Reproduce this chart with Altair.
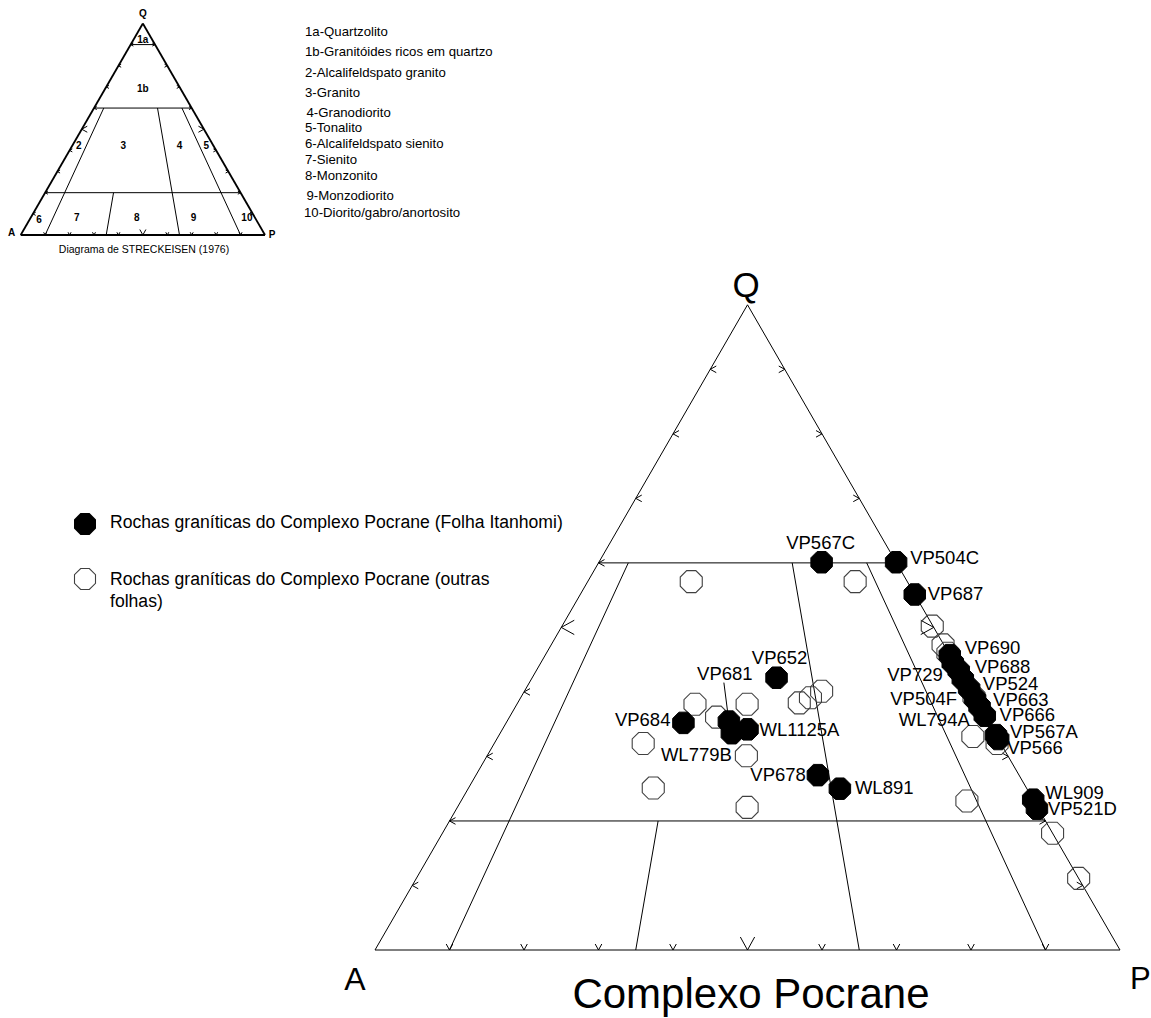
import math
import altair as alt
import pandas as pd

# ---------------------------------------------------------------------------
# Modal Q-A-P compositions (%) of the granitic rocks of the Pocrane Complex
# ---------------------------------------------------------------------------
itanhomi_names = ["VP567C", "VP504C", "VP687", "VP652", "VP681", "VP684",
                  "WL1125A", "WL779B", "VP678", "WL891", "WL909", "VP521D",
                  "VP690", "VP729", "VP688", "VP524", "VP504F", "VP663",
                  "VP666", "WL794A", "VP567A", "VP566"]
itanhomi_q = [60.1, 60.1, 55.1, 42.2, 35.4, 35.2, 34.2, 33.6, 27.1, 25.0, 23.3, 21.9,
              45.7, 44.5, 43.3, 42.0, 40.5, 38.9, 37.7, 36.3, 33.3, 32.7]
itanhomi_a = [10.0, 0.0, 0.0, 25.0, 34.8, 41.0, 32.9, 35.3, 27.0, 25.1, 0.0, 0.2,
              0.0, 0.2, 0.0, 0.1, 0.0, 0.0, 0.0, 0.0, 0.0, 0.0]
itanhomi_p = [29.9, 39.9, 44.9, 32.8, 29.8, 23.8, 32.9, 31.1, 45.9, 49.9, 76.7, 77.9,
              54.3, 55.3, 56.7, 57.9, 59.5, 61.1, 62.3, 63.7, 66.7, 67.3]

outras_q = [57.1, 57.1, 38.1, 38.1, 36.1, 32.0, 30.1, 25.1, 22.1, 38.3, 39.1,
            40.1, 50.2, 47.3, 46.0, 39.2, 33.1, 32.0, 23.1, 18.1, 11.1]
outras_a = [29.0, 7.0, 38.0, 31.0, 36.1, 48.0, 35.1, 50.1, 39.0, 23.9, 22.0,
            20.0, 0.1, 0.1, 0.1, 0.0, 3.2, 0.5, 9.0, 0.0, 0.0]
outras_p = [13.9, 35.9, 23.9, 30.9, 27.8, 20.0, 34.8, 24.8, 38.9, 37.8, 38.9,
            39.9, 49.7, 52.6, 53.9, 60.8, 63.7, 67.5, 67.9, 81.9, 88.9]

# Streckeisen (1976) QAP fields
field_codes = ["1a", "1b", "2", "3", "4", "5", "6", "7", "8", "9", "10"]
field_names = ["1a-Quartzolito", "1b-Granitóides ricos em quartzo",
               "2-Alcalifeldspato granito", "3-Granito", "4-Granodiorito",
               "5-Tonalito", "6-Alcalifeldspato sienito", "7-Sienito",
               "8-Monzonito", "9-Monzodiorito", "10-Diorito/gabro/anortosito"]
field_code_q = [92, 69, 42, 42, 42, 42, 7, 8, 8, 8, 8]
field_code_p = [4, 15.5, 2.8, 21, 44, 55, 4, 19, 43.5, 66.7, 88.6]

legend_items = ["Rochas graníticas do Complexo Pocrane (Folha Itanhomi)",
                "Rochas graníticas do Complexo Pocrane (outras folhas)"]

# ---------------------------------------------------------------------------
# Page geometry
# ---------------------------------------------------------------------------
W, H = 1151, 1018
PX = 7.45            # pixels per percent along a side of the main diagram
AX, AY = 375, 950    # pixel position of vertex A of the main diagram
R3 = math.sqrt(3) / 2
FONT = "Liberation Sans, Arial, sans-serif"


def ux(px):
    return (px - AX) / PX


def vy(py):
    return (AY - py) / PX


XDOM = [ux(0), ux(W)]
YDOM = [vy(H), vy(0)]

INSET_K = 244.3 / 745.0
INSET_O = (ux(20.7), vy(235))
MAIN_O = (0.0, 0.0)


def to_xy(q, a, p, k=1.0, o=MAIN_O):
    s = q + a + p
    q, p = 100 * q / s, 100 * p / s
    return o[0] + k * (p + q / 2), o[1] + k * q * R3


def at_ratio(q, r):
    """Point at quartz level q whose plagioclase ratio P/(A+P) is r."""
    return (q, (100 - q) * (1 - r), (100 - q) * r)


EDGES = [((0, 100, 0), (0, 0, 100)), ((0, 0, 100), (100, 0, 0)),
         ((100, 0, 0), (0, 100, 0))]
FIELD_LINES = [
    (at_ratio(60, 0), at_ratio(60, 1)),
    (at_ratio(20, 0), at_ratio(20, 1)),
    (at_ratio(60, 0.10), at_ratio(0, 0.10)),
    (at_ratio(60, 0.65), at_ratio(0, 0.65)),
    (at_ratio(60, 0.90), at_ratio(0, 0.90)),
    (at_ratio(20, 0.35), at_ratio(0, 0.35)),
]
QUARTZOLITE_LINE = [(at_ratio(90, 0), at_ratio(90, 1))]


def segments(pairs, w, k=1.0, o=MAIN_O):
    rows = []
    for s, e in pairs:
        x, y = to_xy(*s, k=k, o=o)
        x2, y2 = to_xy(*e, k=k, o=o)
        rows.append(dict(x=x, y=y, x2=x2, y2=y2, w=w))
    return rows


def ticks(small, big, k=1.0, o=MAIN_O):
    """Arrow-head graduations every 10 % on the three sides (larger at 50 %)."""
    rows = []
    for i in range(1, 10):
        t = 10 * i
        sz = big if i == 5 else small
        for (q, a, p), ang in (((t, 100 - t, 0), 270), ((t, 0, 100 - t), 90),
                               ((0, 100 - t, t), 180)):
            x, y = to_xy(q, a, p, k, o)
            rows.append(dict(x=x, y=y, ang=ang, sz=sz))
    return rows


seg_df = pd.DataFrame(
    segments(EDGES, 1.0) + segments(FIELD_LINES, 1.0)
    + segments(EDGES, 1.8, INSET_K, INSET_O)
    + segments(FIELD_LINES + QUARTZOLITE_LINE, 1.0, INSET_K, INSET_O))
tick_df = pd.DataFrame(ticks(144, 676) + ticks(30, 121, INSET_K, INSET_O))

# sample points
itan = pd.DataFrame(dict(name=itanhomi_names, q=itanhomi_q, a=itanhomi_a, p=itanhomi_p))
itan[["x", "y"]] = [to_xy(q, a, p) for q, a, p in zip(itan.q, itan.a, itan.p)]
outras = pd.DataFrame(dict(q=outras_q, a=outras_a, p=outras_p))
outras[["x", "y"]] = [to_xy(q, a, p) for q, a, p in zip(outras.q, outras.a, outras.p)]

# label placement: pixel offset from the sample and text alignment
label_pos = {
    "VP567C": (-1, -19, "center"), "VP504C": (14, -4, "left"),
    "VP687": (13, -1, "left"), "VP652": (3, -20, "center"),
    "VP681": (-4, -48, "center"), "VP684": (-13, -3, "right"),
    "WL1125A": (12, 1, "left"), "WL779B": (0, 22, "right"),
    "VP678": (-12, 0, "right"), "WL891": (15, -1, "left"),
    "WL909": (12, -7, "left"), "VP521D": (11, 0, "left"),
    "VP690": (15, -7, "left"), "VP729": (-10, 12, "right"),
    "VP688": (16, -4, "left"), "VP524": (20, 5, "left"),
    "VP504F": (-12, 10, "right"), "VP663": (18, 1, "left"),
    "VP666": (20, 8, "left"), "WL794A": (-15, 4, "right"),
    "VP567A": (14, -3, "left"), "VP566": (9, 9, "left"),
}
itan["lx"] = [x + label_pos[n][0] / PX for n, x in zip(itan.name, itan.x)]
itan["ly"] = [y - label_pos[n][1] / PX for n, y in zip(itan.name, itan.y)]
itan["anchor"] = [label_pos[n][2] for n in itan.name]

# leader from the VP681 label down to its sample
r681 = itan[itan["name"] == "VP681"].iloc[0]
leader_df = pd.DataFrame([dict(x=r681["lx"] - 1 / PX, y=r681["ly"] - 9 / PX,
                               x2=r681["x"], y2=r681["y"])])

# ---------------------------------------------------------------------------
# Marks
# ---------------------------------------------------------------------------
OCTAGON = "M-0.414,-1L0.414,-1L1,-0.414L1,0.414L0.414,1L-0.414,1L-1,0.414L-1,-0.414Z"
CHEVRON = "M-0.55,1L0,0L0.55,1"


def X(f="x"):
    return alt.X(f"{f}:Q", scale=alt.Scale(domain=XDOM, nice=False, zero=False), axis=None)


def Y(f="y"):
    return alt.Y(f"{f}:Q", scale=alt.Scale(domain=YDOM, nice=False, zero=False), axis=None)


lines = alt.Chart(seg_df).mark_rule(color="black").encode(
    x=X(), y=Y(), x2="x2:Q", y2="y2:Q",
    strokeWidth=alt.StrokeWidth("w:Q", scale=None))

tick_marks = alt.Chart(tick_df).mark_point(
    shape=CHEVRON, filled=False, stroke="black", strokeWidth=1, opacity=1).encode(
    x=X(), y=Y(), angle=alt.Angle("ang:Q", scale=None),
    size=alt.Size("sz:Q", scale=None))

open_pts = alt.Chart(outras).mark_point(
    shape=OCTAGON, filled=False, stroke="#404040", strokeWidth=1.1, size=484,
    opacity=1).encode(x=X(), y=Y())

filled_pts = alt.Chart(itan).mark_point(
    shape=OCTAGON, filled=True, fill="black", stroke="black", strokeWidth=1,
    size=462, opacity=1).encode(x=X(), y=Y())

leader = alt.Chart(leader_df).mark_rule(color="black", strokeWidth=1).encode(
    x=X(), y=Y(), x2="x2:Q", y2="y2:Q")

labels = []
for al in ("left", "right", "center"):
    labels.append(
        alt.Chart(itan[itan["anchor"] == al]).mark_text(
            font=FONT, fontSize=18.5, align=al, baseline="middle", color="black").encode(
            x=X("lx"), y=Y("ly"), text="name:N"))

# vertex letters and title of the main diagram
ann_rows = [
    dict(t="Q", x=ux(746), y=vy(286), fs=35, al="center"),
    dict(t="A", x=ux(355), y=vy(980), fs=32, al="center"),
    dict(t="P", x=ux(1130), y=vy(980), fs=31, al="left"),
    dict(t="Complexo Pocrane", x=ux(751), y=vy(995), fs=42, al="center"),
]
ann_df = pd.DataFrame(ann_rows)
annotations = [
    alt.Chart(ann_df[ann_df["al"] == al]).mark_text(
        font=FONT, align=al, baseline="middle", color="black").encode(
        x=X(), y=Y(), text="t:N", size=alt.Size("fs:Q", scale=None))
    for al in ("center", "left")
]

# legend of the two sample groups
leg_sym = pd.DataFrame(dict(x=[ux(85), ux(85)], y=[vy(524), vy(579)],
                            kind=["itan", "outras"]))
leg_filled = alt.Chart(leg_sym[leg_sym["kind"] == "itan"]).mark_point(
    shape=OCTAGON, filled=True, fill="black", stroke="black", size=400,
    opacity=1).encode(x=X(), y=Y())
leg_open = alt.Chart(leg_sym[leg_sym["kind"] == "outras"]).mark_point(
    shape=OCTAGON, filled=False, stroke="#404040", strokeWidth=1.1, size=441,
    opacity=1).encode(x=X(), y=Y())
leg_text_rows = [
    dict(t=legend_items[0], x=ux(110), y=vy(523)),
    dict(t=legend_items[1].rsplit(" ", 1)[0], x=ux(110), y=vy(580)),
    dict(t=legend_items[1].rsplit(" ", 1)[1], x=ux(110), y=vy(602)),
]
leg_text = alt.Chart(pd.DataFrame(leg_text_rows)).mark_text(
    font=FONT, fontSize=17.6, align="left", baseline="middle", color="black").encode(
    x=X(), y=Y(), text="t:N")

# inset: Streckeisen classification diagram
code_df = pd.DataFrame(dict(t=field_codes))
code_df[["x", "y"]] = [to_xy(q, 100 - q - p, p, INSET_K, INSET_O)
                       for q, p in zip(field_code_q, field_code_p)]
inset_codes = alt.Chart(code_df).mark_text(
    font=FONT, fontSize=10, fontWeight="bold", align="center", baseline="middle",
    color="black").encode(x=X(), y=Y(), text="t:N")

qx, qy = to_xy(100, 0, 0, INSET_K, INSET_O)
axx, axy = to_xy(0, 100, 0, INSET_K, INSET_O)
px_, py_ = to_xy(0, 0, 100, INSET_K, INSET_O)
inset_vertex = alt.Chart(pd.DataFrame([
    dict(t="Q", x=qx, y=qy + 9 / PX),
    dict(t="A", x=axx - 9 / PX, y=axy + 2 / PX),
    dict(t="P", x=px_ + 7 / PX, y=py_),
])).mark_text(font=FONT, fontSize=10, fontWeight="bold", baseline="middle",
              align="center", color="black").encode(x=X(), y=Y(), text="t:N")

inset_caption = alt.Chart(pd.DataFrame([
    dict(t="Diagrama de STRECKEISEN (1976)", x=ux(144), y=vy(250))
])).mark_text(font=FONT, fontSize=10.5, align="center", baseline="middle",
              color="black").encode(x=X(), y=Y(), text="t:N")

list_y = [31.7, 51.7, 72.7, 92.7, 112.7, 128.3, 144, 160, 176, 196, 212.7]
list_x = [305, 305, 305, 305, 306.5, 305, 305, 305, 305, 306.5, 304]
list_df = pd.DataFrame(dict(t=field_names, x=[ux(v) for v in list_x],
                            y=[vy(v) for v in list_y]))
field_list = alt.Chart(list_df).mark_text(
    font=FONT, fontSize=13.2, align="left", baseline="middle", color="black").encode(
    x=X(), y=Y(), text="t:N")

chart = alt.layer(
    lines, tick_marks, open_pts, filled_pts, leader, *labels, *annotations,
    leg_filled, leg_open, leg_text, inset_codes, inset_vertex, inset_caption,
    field_list,
).properties(
    width=W, height=H, padding=0, background="white",
    autosize=alt.AutoSizeParams(type="none"),
).configure_view(strokeWidth=0)

chart.save("out.html", embed_options={"renderer": "svg", "actions": False})
